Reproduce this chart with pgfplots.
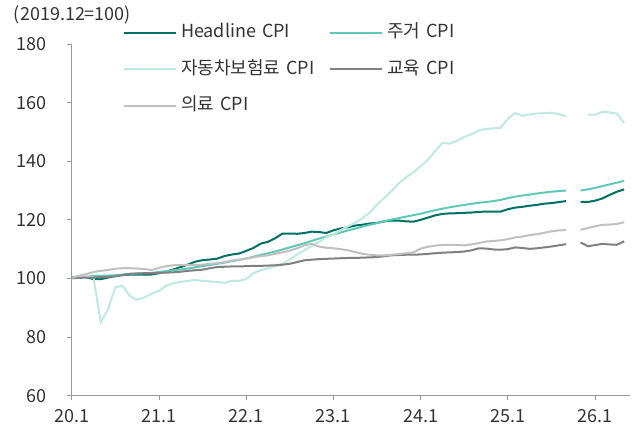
\documentclass[border=0pt]{standalone}
\usepackage{fontspec}
\setmainfont{Noto Sans CJK KR}
\usepackage{pgfplots}
\usepackage{pgfplotstable}
\pgfplotsset{compat=1.18}
\newcommand\chartfont{\fontsize{18bp}{21bp}\selectfont}
\definecolor{cHead}{RGB}{0,112,100}
\definecolor{cShel}{RGB}{96,200,185}
\definecolor{cMotor}{RGB}{190,233,227}
\definecolor{cEdu}{RGB}{128,128,128}
\definecolor{cMed}{RGB}{192,192,192}
\pgfplotstableread{
k head shel motor edu med
0 100.39 100.3 100.0 100.1 100.2
1 100.66 100.6 100.6 100.2 100.9
2 100.44 100.8 101.0 100.3 101.5
3 99.77 100.9 100.3 100.3 102.2
4 99.77 100.9 85.0 100.4 102.6
5 100.32 101.0 89.5 100.6 102.9
6 100.83 101.1 97.0 100.7 103.3
7 101.15 101.3 97.5 101.2 103.5
8 101.29 101.5 94.0 101.6 103.5
9 101.33 101.7 92.7 101.7 103.4
10 101.27 101.8 93.6 101.8 103.2
11 101.36 101.9 94.8 101.8 102.9
12 101.79 102.2 95.8 101.9 103.6
13 102.35 102.5 97.5 102.0 104.2
14 103.08 102.8 98.4 102.1 104.5
15 103.92 103.1 98.8 102.3 104.6
16 104.75 103.4 99.2 102.6 104.6
17 105.73 103.8 99.5 102.8 104.6
18 106.24 104.2 99.2 103.0 104.7
19 106.46 104.6 99.0 103.5 105.0
20 106.75 105.0 98.8 103.9 105.2
21 107.63 105.4 98.5 104.0 105.6
22 108.16 105.9 99.2 104.1 106.1
23 108.49 106.3 99.2 104.1 106.4
24 109.41 106.8 99.8 104.2 106.8
25 110.41 107.4 101.8 104.3 107.2
26 111.88 108.0 102.8 104.3 107.6
27 112.51 108.6 103.5 104.4 107.9
28 113.75 109.2 104.2 104.5 108.4
29 115.31 109.9 105.0 104.7 108.9
30 115.29 110.6 106.5 105.0 109.5
31 115.25 111.3 108.2 105.6 110.3
32 115.50 112.0 109.6 106.2 111.3
33 115.97 112.8 111.0 106.4 111.8
34 115.85 113.6 112.5 106.6 110.9
35 115.50 114.3 114.0 106.7 110.5
36 116.42 115.0 115.0 106.8 110.3
37 117.07 115.7 116.5 106.9 110.0
38 117.46 116.4 117.8 107.0 109.6
39 118.05 117.0 119.0 107.0 109.0
40 118.35 117.7 120.6 107.1 108.4
41 118.73 118.3 122.5 107.2 108.1
42 118.96 118.9 125.2 107.3 107.9
43 119.48 119.5 127.5 107.6 107.9
44 119.77 120.1 129.8 107.9 108.1
45 119.73 120.6 132.5 108.0 108.3
46 119.49 121.1 134.5 108.1 108.6
47 119.37 121.6 136.2 108.1 108.9
48 120.02 122.1 138.3 108.2 110.2
49 120.76 122.7 140.5 108.4 110.8
50 121.54 123.3 143.5 108.6 111.2
51 122.02 123.8 146.2 108.8 111.4
52 122.22 124.3 146.0 108.9 111.5
53 122.26 124.7 147.0 109.0 111.4
54 122.40 125.1 148.3 109.2 111.3
55 122.50 125.5 149.2 109.6 111.6
56 122.70 125.8 150.5 110.3 112.1
57 122.84 126.1 151.0 110.2 112.6
58 122.77 126.4 151.2 109.9 112.8
59 122.82 126.8 151.4 109.8 113.0
60 123.62 127.4 154.5 110.0 113.4
61 124.17 127.9 156.5 110.6 114.0
62 124.45 128.3 155.5 110.4 114.3
63 124.83 128.6 156.0 110.1 114.8
64 125.10 129.0 156.3 110.3 115.1
65 125.52 129.3 156.4 110.6 115.6
66 125.71 129.6 156.5 110.9 116.1
67 126.07 129.8 156.1 111.3 116.4
68 126.39 130.0 155.3 111.7 116.5
69 nan nan nan nan nan
70 126.13 130.0 nan 112.3 116.6
71 126.10 130.4 155.9 111.0 117.2
72 126.55 130.9 155.9 111.4 117.8
73 127.30 131.5 156.8 111.8 118.3
74 128.50 132.1 156.7 111.6 118.4
75 129.60 132.7 156.2 111.5 118.6
76 130.40 133.3 153.0 112.7 119.2
}\cpidata
\begin{document}
\begin{tikzpicture}
\useasboundingbox (-71.7bp,-33.3bp) rectangle (560.3bp,395.7bp);
\begin{axis}[
  at={(0,0)}, anchor=south west,
  scale only axis, width=558.3bp, height=351.7bp,
  xmin=0, xmax=76.8, ymin=60, ymax=180,
  axis x line*=bottom, axis y line*=left,
  axis line style={draw=black!40, line width=0.8bp},
  xtick={0,12,24,36,48,60,72},
  xticklabels={20.1,21.1,22.1,23.1,24.1,25.1,26.1},
  ytick={60,80,100,120,140,160,180},
  tick align=outside, major tick length=4.5bp,
  tick style={draw=black!40, line width=0.8bp},
  tick label style={font=\chartfont, text=black!80},
  /pgf/number format/assume math mode=true,
  xticklabel style={anchor=north, inner sep=0pt, yshift=-9.5bp},
  yticklabel style={anchor=east, inner sep=0pt, xshift=-20.5bp},
  unbounded coords=jump,
  legend columns=2,
  legend cell align=left,
  legend image code/.code={\draw[#1] (0bp,0bp) -- (52bp,0bp);},
  legend style={draw=none, fill=none, inner sep=0pt, outer sep=0pt,
    at={(axis description cs:0.0919,1.0569)}, anchor=north west,
    row sep=18.5bp,
    nodes={inner sep=0pt, text width=140bp, align=left, text height=14bp, text depth=4bp, font=\chartfont, text=black!80},
    /tikz/every odd column/.append style={column sep=4bp},
    /tikz/every even column/.append style={column sep=8bp}},
]
\addplot[cHead, line width=2bp] table[x=k, y=head] {\cpidata};
\addlegendentry{Headline CPI}
\addplot[cShel, line width=2bp] table[x=k, y=shel] {\cpidata};
\addlegendentry{주거 CPI}
\addplot[cMotor, line width=2bp] table[x=k, y=motor] {\cpidata};
\addlegendentry{자동차보험료 CPI}
\addplot[cEdu, line width=2bp] table[x=k, y=edu] {\cpidata};
\addlegendentry{교육 CPI}
\addplot[cMed, line width=2bp] table[x=k, y=med] {\cpidata};
\addlegendentry{의료 CPI}
\end{axis}
\node[font=\chartfont, text=black!80, inner sep=0pt] at (0.8bp,380.7bp) {(2019.12=100)};
\end{tikzpicture}
\end{document}
